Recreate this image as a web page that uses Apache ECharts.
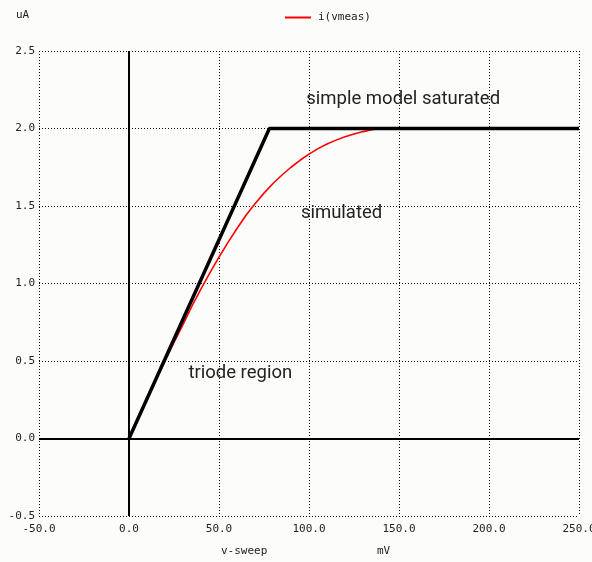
<!DOCTYPE html>
<html><head><meta charset="utf-8">
<script src="https://cdn.jsdelivr.net/npm/echarts@6/dist/echarts.min.js"></script>
<style>html,body{margin:0;padding:0;background:#fcfcfa}#c{width:592px;height:562px}</style>
</head><body><div id="c"></div>
<script>
// Simulated i(vmeas), uA vs v-sweep (mV)
const vSim = [0,5,10,15,20,25,30,35,40,45,50,55,60,65,70,75,80,85,90,95,100,105,110,115,120,125,130,135,140,150,175,200,225,250];
const iSim = [0,0.13,0.255,0.38,0.50,0.62,0.735,0.855,0.965,1.07,1.17,1.265,1.355,1.44,1.515,1.583,1.645,1.70,1.75,1.795,1.835,1.87,1.90,1.925,1.947,1.965,1.98,1.992,2.0,2.0,2.0,2.0,2.0,2.0];
// Simple model (triode then saturated)
const vModel = [0,78,250];
const iModel = [0,2.0,2.0];
const xTicks = [-50,0,50,100,150,200,250];
const yTicks = [-0.5,0,0.5,1.0,1.5,2.0,2.5];
const notes = [
  {text:'simple model saturated', x:98.5, y:2.19},
  {text:'simulated', x:95.5, y:1.45},
  {text:'triode region', x:33, y:0.42}
];

const mono = 'DejaVu Sans Mono';
const grid = {type:[1,2], color:'#000', width:1};
const chart = echarts.init(document.getElementById('c'), null, {renderer:'canvas'});
chart.setOption({
  backgroundColor:'#fcfcfa',
  animation:false,
  grid:{left:39, right:13, top:51, bottom:46, outerBoundsMode:'none', containLabel:false},
  legend:{
    top:7, left:280,
    data:['i(vmeas)'],
    itemWidth:26, itemHeight:2, icon:'rect', itemGap:7,
    textStyle:{fontFamily:mono, fontSize:11, color:'#222', padding:[0,0,0,2]}
  },
  graphic:[
    {type:'text', left:16, top:10, style:{text:'uA', font:'11px "DejaVu Sans Mono"', fill:'#222'}},
    {type:'text', left:221, top:546, style:{text:'v-sweep', font:'11px "DejaVu Sans Mono"', fill:'#222'}},
    {type:'text', left:377, top:546, style:{text:'mV', font:'11px "DejaVu Sans Mono"', fill:'#222'}}
  ],
  xAxis:{
    type:'value', min:-50, max:250, interval:50,
    axisLine:{show:false}, axisTick:{show:false},
    splitLine:{show:true, lineStyle:grid},
    axisLabel:{fontFamily:mono, fontSize:11, color:'#222', margin:8,
      formatter:v=>xTicks.includes(v)? v.toFixed(1):''}
  },
  yAxis:{
    type:'value', min:-0.5, max:2.5, interval:0.5,
    axisLine:{show:false}, axisTick:{show:false},
    splitLine:{show:true, lineStyle:grid},
    axisLabel:{fontFamily:mono, fontSize:11, color:'#222', margin:4,
      formatter:v=>yTicks.some(t=>Math.abs(t-v)<1e-9)? v.toFixed(1):''}
  },
  series:[
    {
      name:'i(vmeas)', type:'line', z:2,
      data:vSim.map((v,i)=>[v,iSim[i]]),
      smooth:false, showSymbol:false,
      lineStyle:{color:'#ff0000', width:1.6}, itemStyle:{color:'#ff0000'},
      markLine:{
        silent:true, symbol:'none', label:{show:false},
        lineStyle:{color:'#000', width:2, type:'solid'},
        data:[{xAxis:0},{yAxis:0}]
      }
    },
    {
      name:'model', type:'line', z:3,
      data:vModel.map((v,i)=>[v,iModel[i]]),
      showSymbol:false,
      lineStyle:{color:'#000', width:3.5}, itemStyle:{color:'#000'},
      markPoint:{
        silent:true, symbol:'rect', symbolSize:0,
        label:{show:true, color:'#222', fontFamily:'Roboto', fontSize:18.5, position:'right', distance:0,
          formatter:p=>p.name},
        data:notes.map(n=>({name:n.text, coord:[n.x,n.y]}))
      }
    }
  ]
});
</script></body></html>
